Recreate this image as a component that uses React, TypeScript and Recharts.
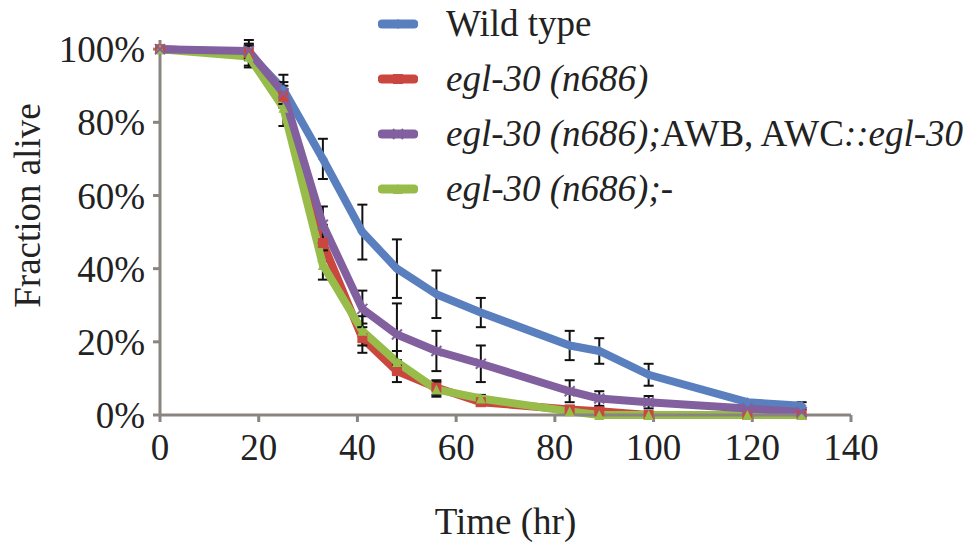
import React from 'react'
import { LineChart, Line, XAxis, YAxis, ErrorBar, Label } from 'recharts'

const times = [0, 18, 25, 33, 41, 48, 56, 65, 83, 89, 99, 119, 130]

const wildType = [100, 99, 89, 70, 50, 40, 33, 28, 19, 17.5, 11, 3.5, 2.5]
const wildTypeErr = [0, 3.5, 4, 5.5, 7.5, 8, 6.5, 4, 4, 3.5, 3, 0, 1]

const egl30 = [100, 99, 87, 47, 21, 12, 7.5, 3.5, 1.5, 1, 0, 0, 0]
const egl30Err = [0, 2, 3, 5, 4, 3, 2, 1, 1, 1, 0, 0, 0]

const rescue = [100, 99.5, 88, 52, 29, 22, 17.5, 14, 6.5, 4.5, 3.5, 1.8, 0.8]
const rescueErr = [0, 2, 3, 5, 5, 8.5, 5.5, 5, 3, 2, 1.7, 0, 0]

const control = [100, 98, 84, 41, 23, 14.5, 7, 4.5, 1, 0, 0, 0, 0]
const controlErr = [0, 3, 5, 4, 4, 3, 2, 1, 0.5, 0, 0, 0, 0]

const xTicks = [0, 20, 40, 60, 80, 100, 120, 140]
const yTicks = [0, 20, 40, 60, 80, 100]

const FONT = 'Liberation Serif, Times New Roman, serif'
const FS = 37
const AXIS = '#8a8580'

const BLUE = '#5a7fbf'
const RED = '#c9473f'
const PURPLE = '#82609f'
const GREEN = '#97bc4a'

const toRows = (vals: number[], errs: number[]) =>
  times.map((t, i) => ({ t, v: vals[i], err: errs[i] }))

type Shape = 'diamond' | 'square' | 'cross' | 'triangle'

function Marker({ shape, cx, cy, color, s = 5 }: { shape: Shape; cx: number; cy: number; color: string; s?: number }) {
  if (shape === 'diamond') {
    return <polygon points={`${cx},${cy - s} ${cx + s},${cy} ${cx},${cy + s} ${cx - s},${cy}`} fill={color} />
  }
  if (shape === 'square') {
    return <rect x={cx - s} y={cy - s} width={2 * s} height={2 * s} fill={color} />
  }
  if (shape === 'triangle') {
    return <polygon points={`${cx},${cy - s} ${cx + s},${cy + s} ${cx - s},${cy + s}`} fill={color} />
  }
  return (
    <g stroke={color} strokeWidth={2}>
      <line x1={cx - s} y1={cy - s} x2={cx + s} y2={cy + s} />
      <line x1={cx - s} y1={cy + s} x2={cx + s} y2={cy - s} />
    </g>
  )
}

const dotFor = (shape: Shape, color: string) => (p: any) =>
  <Marker key={`${shape}-${p.index}`} shape={shape} cx={p.cx} cy={p.cy} color={color} />

// drawn in this order so purple sits on top like the original
const series = [
  { key: 'wt', color: BLUE, shape: 'diamond' as Shape, data: toRows(wildType, wildTypeErr) },
  { key: 'egl', color: RED, shape: 'square' as Shape, data: toRows(egl30, egl30Err) },
  { key: 'ctl', color: GREEN, shape: 'triangle' as Shape, data: toRows(control, controlErr) },
  { key: 'res', color: PURPLE, shape: 'cross' as Shape, data: toRows(rescue, rescueErr) },
]

const legendItems: { color: string; shape: Shape; label: React.ReactNode }[] = [
  { color: BLUE, shape: 'diamond', label: 'Wild type' },
  { color: RED, shape: 'square', label: <i>egl-30 (n686)</i> },
  {
    color: PURPLE,
    shape: 'cross',
    label: (
      <>
        <i>egl-30 (n686);</i>AWB, AWC<i>::egl-30</i>
      </>
    ),
  },
  { color: GREEN, shape: 'triangle', label: <i>egl-30 (n686);-</i> },
]

function YTitle(props: any) {
  const vb = props.viewBox
  const cx = 27
  const cy = vb.y + vb.height / 2 - 22
  return (
    <text x={cx} y={cy} transform={`rotate(-90 ${cx} ${cy})`} textAnchor="middle" dominantBaseline="central"
      fontFamily={FONT} fontSize={FS} fill="#222">
      Fraction alive
    </text>
  )
}

export default function App() {
  return (
    <div style={{ position: 'absolute', left: 0, top: 0, width: 972, height: 546, background: '#fff' }}>
      <LineChart width={972} height={546} margin={{ top: 40, right: 121, bottom: 11, left: 0 }}>
        <XAxis
          type="number"
          dataKey="t"
          domain={[0, 140]}
          ticks={xTicks}
          allowDuplicatedCategory={false}
          height={120}
          stroke={AXIS}
          strokeWidth={3}
          tickSize={7}
          tickMargin={12}
          tick={{ fill: '#222', fontSize: FS, fontFamily: FONT }}
        >
          <Label value="Time (hr)" position="insideBottom" offset={1} fill="#222" fontSize={FS} fontFamily={FONT} />
        </XAxis>
        <YAxis
          type="number"
          domain={[0, 100]}
          ticks={yTicks}
          width={160}
          stroke={AXIS}
          strokeWidth={3}
          tickSize={7}
          tickMargin={8}
          tickFormatter={(v: number) => `${v}%`}
          tick={{ fill: '#222', fontSize: FS, fontFamily: FONT }}
        >
          <Label content={<YTitle />} />
        </YAxis>
        {series.map((s) => (
          <Line
            key={s.key}
            data={s.data}
            dataKey="v"
            type="linear"
            stroke={s.color}
            strokeWidth={8}
            strokeLinejoin="round"
            dot={dotFor(s.shape, s.color)}
            activeDot={false}
            isAnimationActive={false}
          >
            <ErrorBar dataKey="err" direction="y" width={5} stroke="#111" strokeWidth={2} />
          </Line>
        ))}
      </LineChart>
      <div style={{ position: 'absolute', left: 378, top: -4, fontFamily: FONT, fontSize: FS, color: '#222', lineHeight: '55px' }}>
        {legendItems.map((it, i) => (
          <div key={i} style={{ display: 'flex', alignItems: 'center', whiteSpace: 'nowrap' }}>
            <svg width={40} height={16} style={{ marginRight: 28 }}>
              <line x1={4} y1={8} x2={36} y2={8} stroke={it.color} strokeWidth={9} strokeLinecap="round" />
              <Marker shape={it.shape} cx={20} cy={8} color={it.color} s={5} />
            </svg>
            <span>{it.label}</span>
          </div>
        ))}
      </div>
    </div>
  )
}
